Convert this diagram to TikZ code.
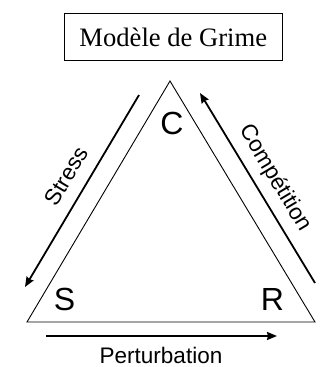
\documentclass[tikz,border=0pt]{standalone}
\usepackage{fontspec}
\setmainfont{Liberation Serif}
\setsansfont{Liberation Sans}
\usetikzlibrary{arrows.meta}
\tikzset{
  vlabel/.style={font=\sffamily\fontsize{32}{32}\selectfont, inner sep=0pt},
  elabel/.style={font=\sffamily\fontsize{22.5}{22.5}\selectfont, inner sep=0pt},
  flow/.style={line width=1.8pt, -{Stealth[length=10pt,width=8pt,inset=1pt]}},
  tri/.style={line width=0.9pt}
}
\begin{document}
\begin{tikzpicture}[x=1pt,y=-1pt]
\useasboundingbox (0,0) rectangle (325,367);
\node[draw, line width=0.9pt, minimum width=218pt, minimum height=46.5pt, inner sep=0pt,
  font=\rmfamily\fontsize{26.6}{26.6}\selectfont] (title) at (173.3,37) {Modèle de Grime};
\coordinate (top) at (170,81);
\coordinate (bl) at (27,322);
\coordinate (br) at (315,322);
\draw[tri] (top) -- (bl) -- (br) -- cycle;
\node[vlabel] (C) at (172,123.5) {C};
\node[vlabel] (S) at (64.5,299) {S};
\node[vlabel] (R) at (272.5,299) {R};
\coordinate (s1) at (139,95);
\coordinate (s2) at (25,287);
\draw[flow] (s1) -- (s2);
\coordinate (c1) at (315,283);
\coordinate (c2) at (200,93);
\draw[flow] (c1) -- (c2);
\coordinate (p1) at (46,336);
\coordinate (p2) at (277,336);
\draw[flow] (p1) -- (p2);
\node[elabel, rotate=59.2] (stress) at (66,176) {Stress};
\node[elabel, rotate=-59.2] (comp) at (275,178) {Compétition};
\node[elabel] (pert) at (161,355.5) {Perturbation};
\end{tikzpicture}
\end{document}
